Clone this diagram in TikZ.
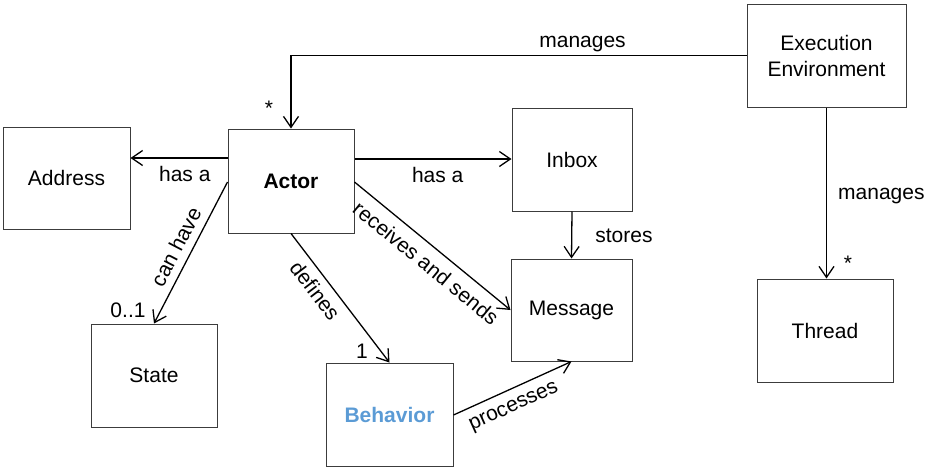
\documentclass[tikz,border=0pt]{standalone}
\usepackage{fontspec}
\setmainfont{Liberation Sans}
\usetikzlibrary{arrows.meta}
\definecolor{boxline}{HTML}{3C3C3C}
\definecolor{behblue}{HTML}{5B9BD5}
\begin{document}
\begin{tikzpicture}[x=1pt,y=-1pt,
  box/.style={draw=boxline, line width=1pt, inner sep=0pt, align=center,
    font=\fontsize{21}{26}\selectfont},
  arr/.style={draw=black, line width=1.3pt, -{Straight Barb[length=11pt,width=15pt]}},
  lab/.style={font=\fontsize{21}{26}\selectfont, inner sep=2pt},
  mult/.style={font=\fontsize{21}{26}\selectfont, inner sep=0pt, anchor=base}]
\useasboundingbox (0,0) rectangle (930,472);
% boxes
\node[box, minimum width=127pt, minimum height=102pt] (address) at (66.5,178) {Address};
\node[box, minimum width=126pt, minimum height=104pt] (actor) at (291,181) {\bfseries Actor};
\node[box, minimum width=120pt, minimum height=103pt] (inbox) at (572,159.5) {Inbox};
\node[box, minimum width=121pt, minimum height=102pt] (message) at (571.5,310) {Message};
\node[box, minimum width=159pt, minimum height=103pt] (exec) at (826.5,55.5) {Execution\\Environment};
\node[box, minimum width=136pt, minimum height=103pt] (thread) at (825,330.5) {Thread};
\node[box, minimum width=126pt, minimum height=103pt] (state) at (154,375.5) {State};
\node[box, minimum width=127pt, minimum height=103pt, text=behblue] (behavior) at (389.5,414.5) {\bfseries Behavior};
% connectors
\draw[arr] (exec.west) -| node[lab, pos=0.18, above=0.5pt] {manages} (actor.north);
\draw[arr] (actor.west |- 0,158) -- node[lab, pos=0.44, below=6pt] {has a} (address.east |- 0,158);
\draw[arr] (actor.east |- 0,159) -- node[lab, pos=0.53, below=6pt] {has a} (inbox.west |- 0,159);
\draw[arr] (actor.west |- 0,182) -- node[lab, pos=0.51, sloped, above=5.5pt] {can have} (state.north);
\draw[arr] (actor.south) -- node[lab, pos=0.37, sloped, below=5pt] {defines} (behavior.north);
\draw[arr] (actor.east |- 0,182) -- node[lab, pos=0.53, sloped, below=7pt] {receives and sends} (message.west);
\draw[arr] (inbox.south) -- node[lab, pos=0.52, right=21pt] {stores} (message.north);
\draw[arr] (behavior.east |- 0,415) -- node[lab, pos=0.45, sloped, below=8pt] {processes} (message.south);
\draw[arr] (exec.south) -- node[lab, pos=0.52, right=9pt] {manages} (exec.south |- thread.north);
% multiplicities
\node[mult] (m1) at (269,115) {*};
\node[mult] (m2) at (848,270) {*};
\node[mult] (m3) at (128,317) {0..1};
\node[mult] (m4) at (362,358) {1};
\end{tikzpicture}
\end{document}
